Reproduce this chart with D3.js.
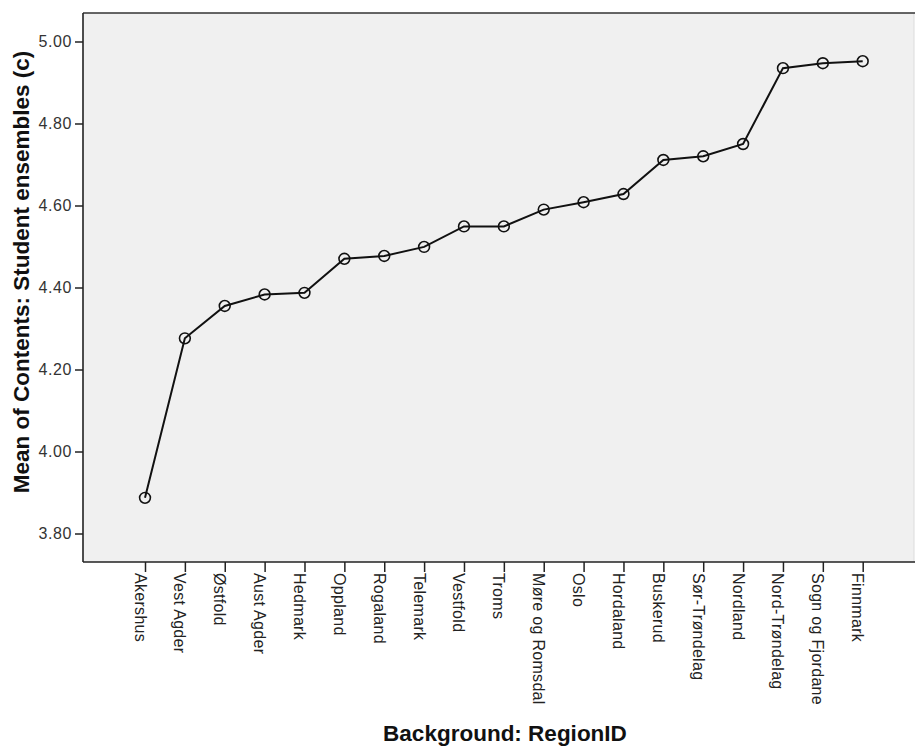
<!DOCTYPE html>
<html>
<head>
<meta charset="utf-8">
<script src="https://cdn.jsdelivr.net/npm/d3@7"></script>
<style>
  html, body { margin: 0; padding: 0; background: #fff; }
  svg { display: block; font-family: Arial, "Liberation Sans", sans-serif; }
</style>
</head>
<body>
<svg id="chart" width="916" height="747"></svg>
<script>
// Regions, ordered by their mean score
const regions = ["Akershus", "Vest Agder", "Østfold", "Aust Agder", "Hedmark", "Oppland",
  "Rogaland", "Telemark", "Vestfold", "Troms", "Møre og Romsdal", "Oslo", "Hordaland",
  "Buskerud", "Sør-Trøndelag", "Nordland", "Nord-Trøndelag", "Sogn og Fjordane", "Finnmark"];
// Mean of Contents: Student ensembles (c)
const means = [3.887, 4.276, 4.355, 4.383, 4.387, 4.470, 4.477, 4.499, 4.549, 4.549, 4.590,
  4.608, 4.628, 4.711, 4.720, 4.750, 4.935, 4.947, 4.952];
const yTicks = [3.80, 4.00, 4.20, 4.40, 4.60, 4.80, 5.00];

const svg = d3.select("#chart");
const plot = { left: 83, top: 13, right: 914, bottom: 562 };

const x = d3.scalePoint().domain(regions).range([145, 862.7]);
const y = d3.scaleLinear().domain([3.7305, 5.0695]).range([plot.bottom, plot.top]);

// plot area
svg.append("rect")
  .attr("x", plot.left).attr("y", plot.top)
  .attr("width", plot.right - plot.left).attr("height", plot.bottom - plot.top)
  .attr("fill", "#f0f0f0");
svg.append("line")
  .attr("x1", plot.right).attr("x2", plot.right)
  .attr("y1", plot.top).attr("y2", plot.bottom)
  .attr("stroke", "#dcdcdc").attr("stroke-width", 1);
svg.append("line")
  .attr("x1", plot.left).attr("x2", plot.right + 1)
  .attr("y1", plot.top).attr("y2", plot.top)
  .attr("stroke", "#333").attr("stroke-width", 1.6);

// y axis
const yAxis = svg.append("g")
  .attr("transform", `translate(${plot.left},0)`)
  .call(d3.axisLeft(y).tickValues(yTicks).tickFormat(d3.format(".2f")).tickSize(8).tickPadding(3));
yAxis.select(".domain").attr("stroke", "#222").attr("stroke-width", 1.6)
  .attr("d", `M0,${plot.top}V${plot.bottom}`);
yAxis.selectAll(".tick line").attr("stroke", "#222").attr("stroke-width", 1.5);
yAxis.selectAll(".tick text")
  .attr("fill", "#333").style("font-size", "16px").style("letter-spacing", "0.6px")
  .style("font-family", "Arial, 'Liberation Sans', sans-serif");

// x axis
const xAxis = svg.append("g")
  .attr("transform", `translate(0,${plot.bottom})`)
  .call(d3.axisBottom(x).tickSize(10).tickSizeOuter(0));
xAxis.select(".domain").attr("stroke", "#222").attr("stroke-width", 1.6)
  .attr("d", `M${plot.left},0H${plot.right + 1}`);
xAxis.selectAll(".tick line").attr("stroke", "#222").attr("stroke-width", 1.5);
xAxis.selectAll(".tick text")
  .attr("fill", "#222")
  .attr("text-anchor", "start")
  .attr("transform", "translate(0,11) rotate(90)")
  .attr("x", 0).attr("y", 11).attr("dy", null)
  .style("font-size", "16px").style("letter-spacing", "0.3px")
  .style("font-family", "Arial, 'Liberation Sans', sans-serif");

// line and markers
const line = d3.line().x((d, i) => x(regions[i])).y(d => y(d));
svg.append("path")
  .datum(means)
  .attr("d", line)
  .attr("fill", "none")
  .attr("stroke", "#111")
  .attr("stroke-width", 2);
svg.append("g").selectAll("circle")
  .data(means)
  .join("circle")
  .attr("cx", (d, i) => x(regions[i]))
  .attr("cy", d => y(d))
  .attr("r", 5.4)
  .attr("fill", "none")
  .attr("stroke", "#111")
  .attr("stroke-width", 1.6);

// axis titles
svg.append("text")
  .attr("x", 505).attr("y", 741)
  .attr("text-anchor", "middle")
  .style("font-size", "22.5px").style("font-weight", "bold")
  .attr("fill", "#111")
  .text("Background: RegionID");
svg.append("text")
  .attr("transform", "translate(29,272) rotate(-90)")
  .attr("text-anchor", "middle")
  .style("font-size", "22.5px").style("font-weight", "bold")
  .attr("fill", "#111")
  .text("Mean of Contents: Student ensembles (c)");
</script>
</body>
</html>
